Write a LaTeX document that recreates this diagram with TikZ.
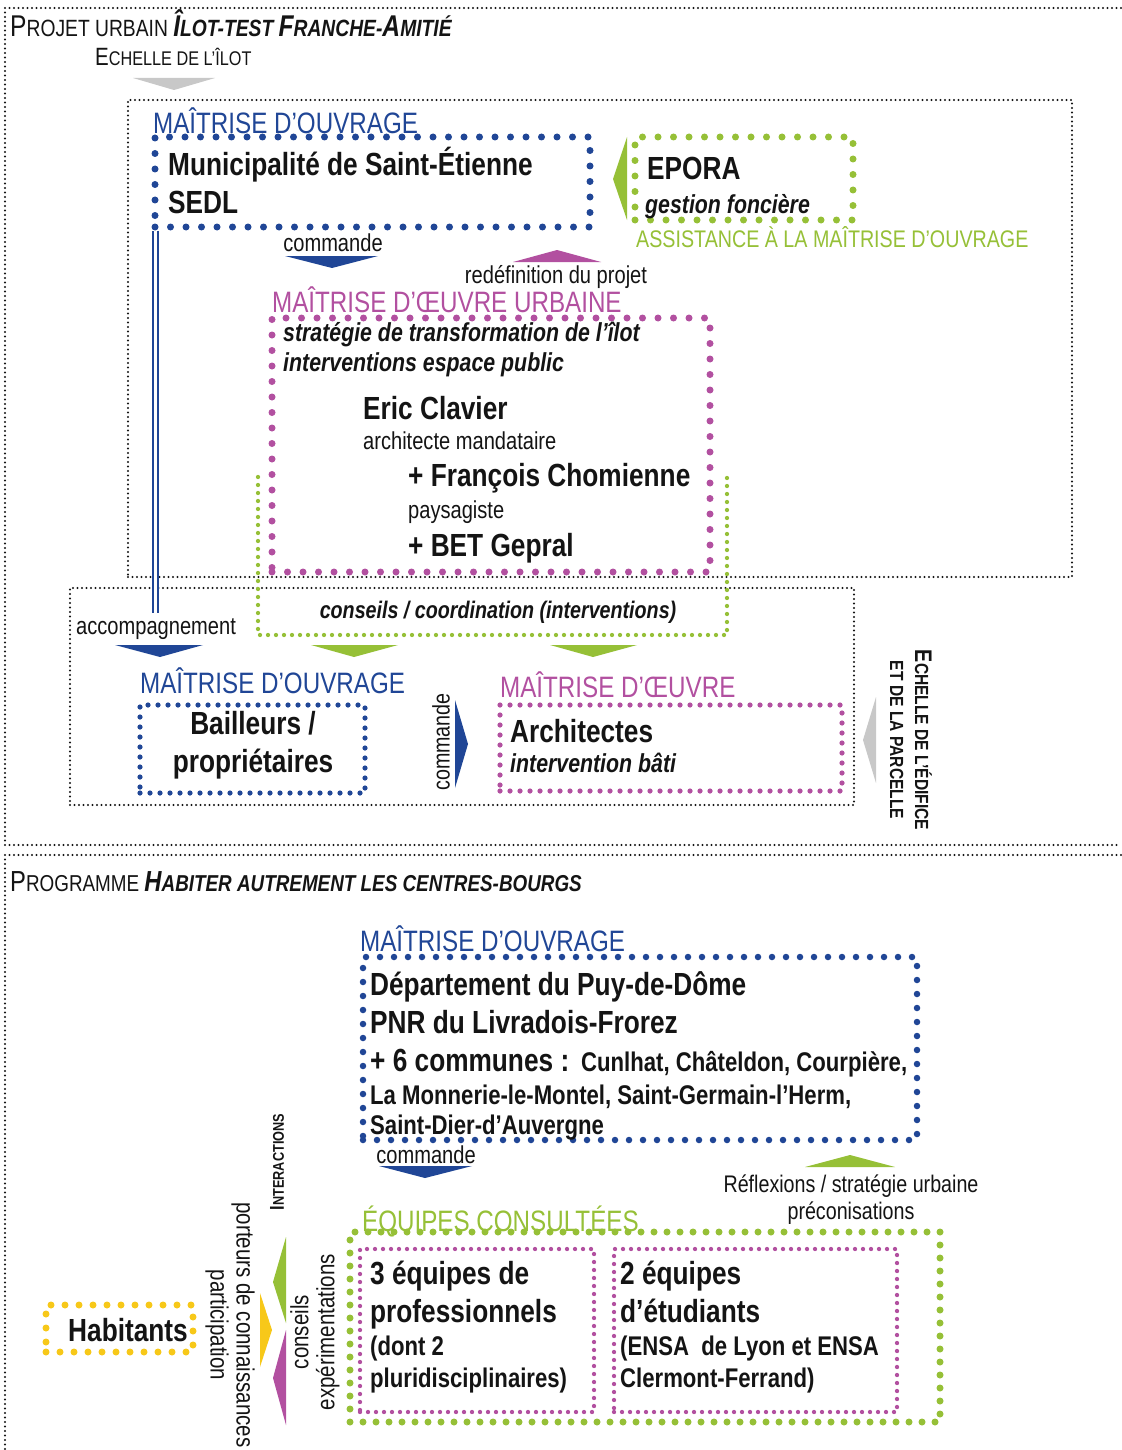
\documentclass[tikz,border=0pt]{standalone}
\usepackage{fontspec}
\setmainfont{Liberation Sans}[FakeStretch=0.82]
\usetikzlibrary{fit}

\definecolor{mblue}{RGB}{32,70,150}
\definecolor{mpurple}{RGB}{178,80,160}
\definecolor{mgreen}{RGB}{150,192,55}
\definecolor{myellow}{RGB}{247,200,25}
\definecolor{mgray}{RGB}{200,200,200}
\definecolor{ink}{RGB}{20,20,20}

\newcommand{\fbig}{\fontsize{32}{36}\selectfont\bfseries}
\newcommand{\fmid}{\fontsize{27}{30}\selectfont\bfseries}
\newcommand{\fital}{\fontsize{26}{30}\selectfont\bfseries\itshape}
\newcommand{\fsmall}{\fontsize{24.5}{27}\selectfont}
\newcommand{\flabel}{\fontsize{29.5}{32}\selectfont}
\newcommand{\capl}[2]{{\fontsize{#1}{#1}\selectfont #2}}

\begin{document}
\begin{tikzpicture}[x=1pt, y=-1pt,
    frame/.style={draw=ink, line width=2.2pt, line cap=round, dash pattern=on 0pt off 4.5pt, inner sep=0pt},
    bigdots/.style={line width=7pt, line cap=round, dash pattern=on 0pt off 15.5pt, inner sep=0pt},
    middots/.style={line width=5.2pt, line cap=round, dash pattern=on 0pt off 10pt, inner sep=0pt},
    smalldots/.style={line width=4.3pt, line cap=round, dash pattern=on 0pt off 8pt, inner sep=0pt},
    txt/.style={anchor=base west, inner sep=0pt, text=ink},
    ctxt/.style={anchor=base, inner sep=0pt, text=ink},
    lbl/.style={anchor=base west, inner sep=0pt, font=\flabel}
]

\fill[white] (0,0) rectangle (1121,1450);
\useasboundingbox (0,0) rectangle (1121,1450);

% frames
\draw[frame] (1121,8) -- (5,8) -- (5,845) -- (1121,845);
\draw[frame] (1121,855) -- (5,855) -- (5,1450);
\node[frame, fit={(128,100) (1072,577)}] (ilot) {};
\node[frame, fit={(70,588) (854,805)}] (edifice) {};

% projet urbain
\node[txt, font=\fontsize{23.5}{25}\selectfont] (titre1) at (10,37)
  {\capl{30}{P}ROJET URBAIN \textbf{\textit{\capl{30}{Î}LOT-TEST \capl{30}{F}RANCHE-\capl{30}{A}MITIÉ}}};
\node[txt, font=\fontsize{19.8}{21}\selectfont] (echA) at (95,66) {\capl{25}{E}CHELLE DE L’ÎLOT};
\fill[mgray] (133,78) -- (215,78) -- (174,90) -- cycle;

\node[lbl, text=mblue] (mo1lbl) at (153,134) {MAÎTRISE D’OUVRAGE};
\node[bigdots, draw=mblue, fit={(155,137) (590,227)}] (mo1) {};
\node[txt, font=\fbig] (mo1a) at (168,176) {Municipalité de Saint-Étienne};
\node[txt, font=\fbig] (mo1b) at (168,214) {SEDL};

\node[bigdots, draw=mgreen, fit={(635,137) (853,220)}] (epora) {};
\node[txt, font=\fbig] (eporaa) at (647,180) {EPORA};
\node[txt, font=\fital] (eporab) at (645,214) {gestion foncière};
\node[txt, font=\fontsize{24}{26}\selectfont, text=mgreen] (amo) at (636,247) {ASSISTANCE À LA MAÎTRISE D’OUVRAGE};
\fill[mgreen] (627,137) -- (627,220) -- (613,179) -- cycle;

\node[ctxt, font=\fsmall] (cmd1) at (333,251) {commande};
\fill[mblue] (285,256) -- (378,256) -- (332,268) -- cycle;
\fill[mpurple] (513,262) -- (601,262) -- (557,250) -- cycle;
\node[ctxt, font=\fsmall] (redef) at (556,283) {redéfinition du projet};

\draw[smalldots, mgreen] (258,477) -- (258,635) -- (727,635) -- (727,475);

\node[lbl, text=mpurple] (moelbl) at (272,312) {MAÎTRISE D’ŒUVRE URBAINE};
\node[bigdots, draw=mpurple, fit={(272,318) (710,572)}] (moe) {};
\node[txt, font=\fital] (moea) at (283,341) {stratégie de transformation de l’îlot};
\node[txt, font=\fital] (moeb) at (283,371) {interventions espace public};
\node[txt, font=\fbig] (clavier) at (363,419) {Eric Clavier};
\node[txt, font=\fsmall] (clavierr) at (363,449) {architecte mandataire};
\node[txt, font=\fbig] (chomienne) at (408,486) {+ François Chomienne};
\node[txt, font=\fsmall] (chomienner) at (408,518) {paysagiste};
\node[txt, font=\fbig] (gepral) at (408,556) {+ BET Gepral};

\node[ctxt, font=\fontsize{24}{28}\selectfont\bfseries\itshape] (coord) at (498,618) {conseils / coordination (interventions)};

\coordinate (acc) at (155.5,613);
\draw[mblue, line width=1.6pt, double=white, double distance=3.2pt] (acc |- mo1.south) -- (acc);
\node[txt, font=\fsmall] (accomp) at (76,634) {accompagnement};
\fill[mblue] (115,645) -- (203,645) -- (160,657) -- cycle;
\fill[mgreen] (311,645) -- (398,645) -- (354,657) -- cycle;
\fill[mgreen] (550,645) -- (637,645) -- (593,657) -- cycle;

\node[lbl, text=mblue] (mo2lbl) at (140,693) {MAÎTRISE D’OUVRAGE};
\node[middots, draw=mblue, fit={(140,705) (365,793)}] (bail) {};
\node[ctxt, font=\fbig] (baila) at (253,734) {Bailleurs /};
\node[ctxt, font=\fbig] (bailb) at (253,772) {propriétaires};
\node[rotate=90, inner sep=0pt, text=ink, font=\fontsize{24}{26}\selectfont] (cmd2) at (441,742) {commande};
\fill[mblue] (455,700) -- (455,788) -- (468,744) -- cycle;

\node[lbl, text=mpurple] (moe2lbl) at (500,697) {MAÎTRISE D’ŒUVRE};
\node[middots, draw=mpurple, fit={(500,705) (842,791)}] (arch) {};
\node[txt, font=\fbig] (archa) at (510,742) {Architectes};
\node[txt, font=\fital] (archb) at (510,772) {intervention bâti};

\fill[mgray] (876,697) -- (876,783) -- (863,740) -- cycle;
\node[rotate=-90, align=center, inner sep=0pt, text=ink, font=\fontsize{19}{25}\selectfont\bfseries] (echB) at (911,740)
  {\capl{24}{E}CHELLE DE L’ÉDIFICE\\ET DE LA PARCELLE};

% habiter autrement
\node[txt, font=\fontsize{23}{25}\selectfont] (titre2) at (10,891)
  {\capl{29}{P}ROGRAMME \textbf{\textit{\capl{29}{H}ABITER AUTREMENT LES CENTRES-BOURGS}}};

\node[lbl, text=mblue] (mo3lbl) at (360,951) {MAÎTRISE D’OUVRAGE};
\node[bigdots, draw=mblue, line width=6.5pt, dash pattern=on 0pt off 14pt, fit={(363,957) (917,1140)}] (mo3) {};
\node[txt, font=\fbig] (mo3a) at (370,995) {Département du Puy-de-Dôme};
\node[txt, font=\fbig] (mo3b) at (370,1033) {PNR du Livradois-Frorez};
\node[txt, font=\fbig] (mo3c) at (370,1071) {+ 6 communes :};
\node[txt, font=\fmid] (mo3d) at (581,1071) {Cunlhat, Châteldon, Courpière,};
\node[txt, font=\fmid] (mo3e) at (370,1104) {La Monnerie-le-Montel, Saint-Germain-l’Herm,};
\node[txt, font=\fmid] (mo3f) at (370,1134) {Saint-Dier-d’Auvergne};

\node[ctxt, font=\fsmall] (cmd3) at (426,1163) {commande};
\fill[mblue] (379,1166) -- (472,1166) -- (425,1178) -- cycle;
\fill[mgreen] (805,1167) -- (895,1167) -- (850,1155) -- cycle;
\node[ctxt, font=\fontsize{24}{26}\selectfont] (reflex) at (851,1192) {Réflexions / stratégie urbaine};
\node[ctxt, font=\fontsize{24}{26}\selectfont] (precon) at (851,1219) {préconisations};

\node[bigdots, draw=mgreen, dash pattern=on 0pt off 13pt, fit={(350,1232) (940,1422)}] (equipes) {};
\node[lbl, text=mgreen] (eqlbl) at (362,1231) {ÉQUIPES CONSULTÉES};
\node[smalldots, draw=mpurple, fit={(360,1249) (594,1412)}] (pros) {};
\node[smalldots, draw=mpurple, fit={(614,1249) (897,1412)}] (etud) {};

\node[txt, font=\fbig] (prosa) at (370,1284) {3 équipes de};
\node[txt, font=\fbig] (prosb) at (370,1322) {professionnels};
\node[txt, font=\fmid] (prosc) at (370,1355) {(dont 2};
\node[txt, font=\fmid] (prosd) at (370,1387) {pluridisciplinaires)};
\node[txt, font=\fbig] (etuda) at (620,1284) {2 équipes};
\node[txt, font=\fbig] (etudb) at (620,1322) {d’étudiants};
\node[txt, font=\fmid] (etudc) at (620,1355) {(ENSA~ de Lyon et ENSA};
\node[txt, font=\fmid] (etudd) at (620,1387) {Clermont-Ferrand)};

\node[bigdots, draw=myellow, dash pattern=on 0pt off 14pt, fit={(46,1305) (193,1352)}] (hab) {};
\node[ctxt, font=\fbig] (haba) at (128,1341) {Habitants};

\fill[myellow] (260,1293) -- (260,1367) -- (272,1330) -- cycle;
\fill[mgreen] (286,1237) -- (286,1323) -- (273,1282) -- cycle;
\fill[mpurple] (286,1330) -- (286,1425) -- (273,1378) -- cycle;

\node[rotate=-90, align=center, inner sep=0pt, text=ink, font=\fontsize{25}{26}\selectfont] (porteurs) at (230,1325)
  {porteurs de connaissances\\participation};
\node[rotate=90, align=center, inner sep=0pt, text=ink, font=\fontsize{25}{26}\selectfont] (conseils) at (315,1332)
  {conseils\\expérimentations};
\node[rotate=90, inner sep=0pt, text=ink, font=\fontsize{15.5}{16}\selectfont\bfseries] (inter) at (277,1162)
  {\capl{20}{I}NTERACTIONS};

\end{tikzpicture}
\end{document}
